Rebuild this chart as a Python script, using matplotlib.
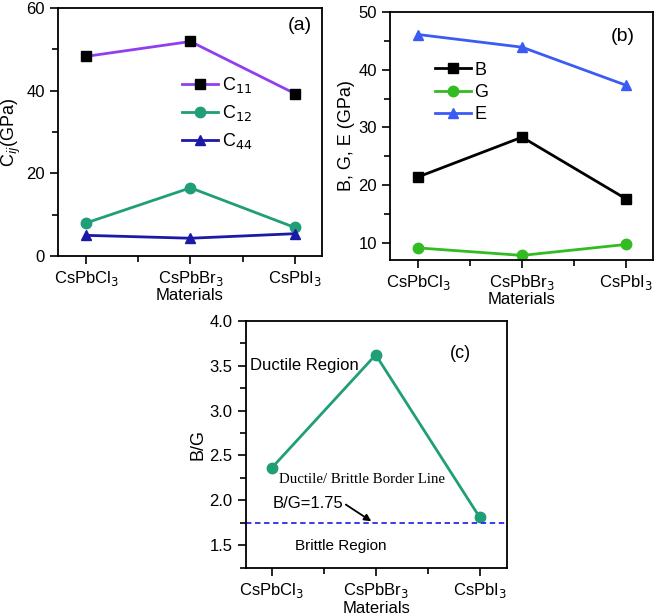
import numpy as np
import matplotlib.pyplot as plt

plt.rcParams['font.family'] = ['Liberation Sans', 'DejaVu Sans']
plt.rcParams['font.size'] = 12

materials = ['CsPbCl$_3$', 'CsPbBr$_3$', 'CsPbI$_3$']

c11 = [48.3, 51.9, 39.3]
c12 = [8.0, 16.5, 6.9]
c44 = [5.0, 4.3, 5.4]

bulk = [21.4, 28.3, 17.6]
shear = [9.1, 7.8, 9.7]
young = [46.1, 43.9, 37.3]

bg_ratio = [2.36, 3.62, 1.81]
border = 1.75

x = np.arange(len(materials))

fig = plt.figure(figsize=(6.61, 6.16), dpi=100)
ax1 = fig.add_axes([0.0877, 0.5844, 0.3994, 0.4026])
ax2 = fig.add_axes([0.590, 0.5779, 0.398, 0.4026])
ax3 = fig.add_axes([0.3717, 0.0784, 0.395, 0.401])


def style(ax, pad=0):
    ax.set_xticks(x)
    ax.set_xticklabels(materials)
    ax.set_xticks([0.5, 1.5], minor=True)
    ax.set_xlim(-0.27, 2.26)
    ax.tick_params(which='both', direction='out', top=False, right=False,
                   labelsize=12)
    ax.tick_params(which='major', length=6, width=1.2)
    ax.tick_params(which='minor', length=4, width=1.2)
    for s in ax.spines.values():
        s.set_linewidth(1.3)
    ax.set_xlabel('Materials', fontsize=12, labelpad=pad)


# (a)
ax1.plot(x, c11, '-s', color='#8f3ff0', mfc='black', mec='black', ms=7.5, lw=2, label='C$_{11}$')
ax1.plot(x, c12, '-o', color='#1f9e78', ms=7.5, lw=2, label='C$_{12}$')
ax1.plot(x, c44, '-^', color='#1a1aa6', ms=7.5, lw=2, label='C$_{44}$')
style(ax1)
ax1.set_ylim(0, 60)
ax1.set_yticks([0, 20, 40, 60])
ax1.set_yticks([10, 30, 50], minor=True)
ax1.set_ylabel('C$_{ij}$(GPa)', fontsize=13, labelpad=2)
ax1.text(0.915, 0.93, '(a)', transform=ax1.transAxes, ha='center', va='center', fontsize=14)
ax1.legend(loc='upper left', bbox_to_anchor=(0.47, 0.73), frameon=False,
           handlelength=2.0, handletextpad=0.2, labelspacing=0.45, fontsize=13,
           borderpad=0, borderaxespad=0)

# (b)
ax2.plot(x, bulk, '-s', color='black', ms=7.5, lw=2, label='B')
ax2.plot(x, shear, '-o', color='#33bb22', ms=7.5, lw=2, label='G')
ax2.plot(x, young, '-^', color='#3a5cf5', ms=7.5, lw=2, label='E')
style(ax2)
ax2.set_ylim(7, 50)
ax2.set_yticks([10, 20, 30, 40, 50])
ax2.set_yticks([15, 25, 35, 45], minor=True)
ax2.set_ylabel('B, G, E (GPa)', fontsize=13, labelpad=2)
ax2.text(0.883, 0.9, '(b)', transform=ax2.transAxes, ha='center', va='center', fontsize=14)
ax2.legend(loc='upper left', bbox_to_anchor=(0.17, 0.8), frameon=False,
           handlelength=2.0, handletextpad=0.2, labelspacing=0.3, fontsize=13,
           borderpad=0, borderaxespad=0)

# (c)
ax3.plot(x, bg_ratio, '-o', color='#1f9e78', ms=7.5, lw=2)
ax3.axhline(border, color='#2a2aee', ls='--', lw=1.3, dashes=(3, 2))
style(ax3, pad=1)
ax3.set_xlim(-0.25, 2.26)
ax3.set_ylim(1.25, 4.0)
ax3.set_yticks([1.5, 2.0, 2.5, 3.0, 3.5, 4.0])
ax3.set_yticks(np.arange(1.25, 4.0, 0.25), minor=True)
ax3.yaxis.set_major_formatter(plt.FormatStrFormatter('%.1f'))
ax3.set_ylabel('B/G', fontsize=13, labelpad=2)
ax3.text(1.81, 3.63, '(c)', ha='center', va='center', fontsize=13)
ax3.text(-0.21, 3.5, 'Ductile Region', ha='left', va='center', fontsize=12)
ax3.text(0.07, 2.235, 'Ductile/ Brittle Border Line', ha='left', va='center',
         fontsize=10.7, family=['Liberation Serif', 'DejaVu Serif'])
ax3.text(0.01, 1.97, 'B/G=1.75', ha='left', va='center', fontsize=12)
ax3.annotate('', xy=(0.98, border), xytext=(0.69, 1.97),
             arrowprops=dict(arrowstyle='-|>', color='black', lw=1.3, mutation_scale=10))
ax3.text(0.22, 1.49, 'Brittle Region', ha='left', va='center', fontsize=11)

fig.savefig('out.png', dpi=100)
